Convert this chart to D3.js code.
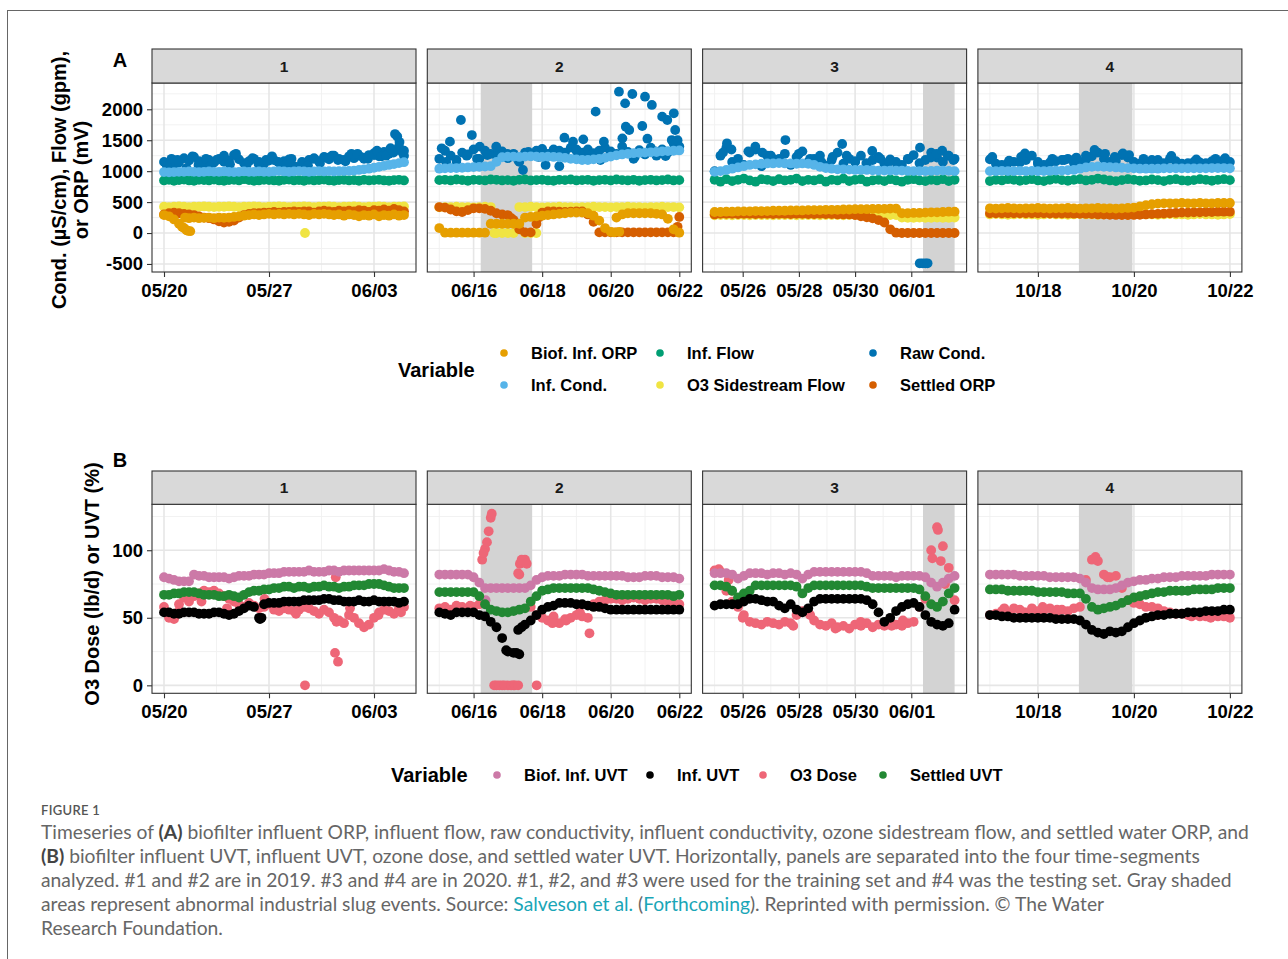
<!DOCTYPE html>
<html>
<head>
<meta charset="utf-8">
<script src="https://cdn.jsdelivr.net/npm/d3@7"></script>
<style>
  body { margin: 0; background: #fff; }
  svg text { font-family: "Liberation Sans", Arial, sans-serif; }
</style>
</head>
<body>
<svg id="fig" width="1288" height="959"></svg>
<script>
// ---- time segments (facets) ----
var panels = ["1", "2", "3", "4"];
var panelStart = ["2019-05-20", "2019-06-15", "2020-05-25", "2020-10-17"];
var stepHours = [8, 4, 5, 3];   // sampling step of the value arrays below
var majorTicks = [
  ["2019-05-20", "2019-05-27", "2019-06-03"],
  ["2019-06-16", "2019-06-18", "2019-06-20", "2019-06-22"],
  ["2020-05-26", "2020-05-28", "2020-05-30", "2020-06-01"],
  ["2020-10-18", "2020-10-20", "2020-10-22"]
];
var slugEvents = [
  null,
  ["2019-06-16T05:00", "2019-06-17T17:00"],
  ["2020-06-01T10:00", "2020-06-02T13:00"],
  ["2020-10-18T20:30", "2020-10-19T23:15"]
];

// ---- panel A variables ----
var varsA = ["Biof. Inf. ORP", "Inf. Cond.", "Inf. Flow", "O3 Sidestream Flow", "Raw Cond.", "Settled ORP"];
var colorsA = ["#E69F00", "#56B4E9", "#009E73", "#F0E442", "#0072B2", "#D55E00"];

var rawCondA = [
  [1150,1110,1090,1140,1210,1170,1230,1160,1120,1180,1140,1200,1150,1170,1260,1190,1130,1160,1200,1150,1120,1170,1180,1140,1160,1190,1080,1070,1120,1180,1210,1160,1230,1190,1250,1200,1180,1240,1210,1250,1200,1260,1290,1240,1310,1280,1340,1400,1330],
  [1200,1330,1250,1180,1300,1270,1350,1200,1330,1280,1250,1320,1210,1280,1150,1300,1250,1330,1360,1280,1350,1330,1300,1380,1330,1300,1350,1290,1330,1380,1320,1280,1400,1310,1200,1340,1270,1380,1250,1350,1300,1450,1400],
  [1000,1250,1380,1150,1200,1100,1300,1350,1080,1250,1200,1150,1280,1100,1230,1320,1150,1200,1250,1090,1180,1300,1120,1200,1150,1250,1100,1180,1230,1120,1190,1150,1100,1200,1260,1130,1180,1300,1220,1150,1250,1200],
  [1190,1120,1100,1130,1150,1140,1180,1250,1120,1100,1140,1160,1180,1200,1130,1150,1180,1240,1300,1200,1150,1170,1260,1220,1150,1120,1100,1180,1150,1130,1200,1160,1120,1130,1150,1140,1130,1160,1150,1180,1150]
];
// extra scattered readings: [days from segment start, value]
var rawCondExtraA = [
  [[0.2,1080],[0.5,1200],[0.9,1180],[1.5,1050],[1.9,1240],[2.3,1100],[2.8,1200],[3.1,1090],[3.5,1180],[4.0,1250],[4.4,1110],[4.8,1280],[5.5,1100],[5.9,1210],[6.3,1120],[6.8,1180],[7.2,1240],[7.6,1150],[8.1,1100],[8.5,1200],[8.8,1060],[9.2,1150],[9.6,1090],[10.0,1200],[10.4,1130],[10.8,1220],[11.2,1250],[11.6,1180],[12.1,1160],[12.5,1280],[12.9,1280],[13.3,1220],[13.6,1200],[14.0,1260],[14.2,1330],[14.5,1240],[14.8,1250],[15.1,1370],[15.3,1300],[15.4,1600],[15.55,1560],[15.7,1470],[15.9,1300],[16.0,1250]],
  [[0.63,1827],[0.95,1584],[4.56,1962],[5.24,2285],[5.63,2247],[5.42,2096],[6.0,2204],[6.2,2070],[6.5,1881],[6.65,1827],[6.84,1935],[5.44,1719],[5.54,1665],[5.34,1530],[5.92,1730],[6.07,1525],[6.88,1665],[6.78,1503],[3.65,1541],[3.9,1477],[4.2,1514],[4.8,1477],[0.31,1477],[0.07,1369],[1.18,1396],[1.66,1396],[2.44,1019],[3.1,1100],[6.6,1245],[0.2,1150],[0.5,1120],[0.8,1250],[1.1,1200],[1.4,1260],[2.0,1280],[2.3,1180],[2.6,1310],[2.9,1230],[3.3,1300],[3.5,1080],[4.0,1350],[4.4,1250],[4.7,1180],[5.0,1300],[5.7,1230],[6.3,1320],[6.95,1500]],
  [[0.44,1450],[1.45,1396],[2.52,1503],[4.54,1439],[5.61,1326],[7.31,1380],[0.3,1300],[0.6,1350],[1.2,1320],[1.7,1300],[2.0,1250],[2.3,1200],[3.0,1280],[3.4,1200],[3.8,1150],[4.2,1230],[4.7,1250],[5.0,1160],[5.4,1130],[5.9,1200],[6.2,1150],[6.5,1100],[6.9,1190],[7.7,1220],[7.9,1280],[8.1,1330],[8.3,1250],[8.5,1180],[7.3,-490],[7.4,-490],[7.5,-490],[7.58,-490]],
  [[0.73,1288],[0.65,1230],[2.18,1342],[2.77,1288],[3.78,1245],[0.05,1230],[1.3,1200],[1.8,1220],[2.0,1250],[2.4,1280],[2.6,1230],[2.9,1260],[3.2,1200],[3.5,1180],[4.3,1190],[4.7,1200],[4.9,1210],[0.4,1170],[1.0,1150],[1.55,1180]]
];
var infCondA = [
  [985,980,985,990,990,995,990,985,990,995,990,990,995,990,985,990,995,990,990,995,990,990,995,1000,995,990,995,1000,995,990,995,1000,995,1000,995,1000,1000,1005,1010,1020,1030,1040,1055,1070,1085,1100,1115,1130,1145],
  [1040,1045,1050,1050,1055,1060,1065,1070,1075,1080,1150,1225,1235,1235,1230,1235,1240,1235,1230,1235,1230,1225,1215,1200,1190,1180,1180,1190,1200,1215,1235,1255,1270,1280,1290,1295,1300,1305,1310,1320,1325,1330,1335],
  [990,1000,1020,1040,1060,1080,1100,1110,1120,1125,1125,1130,1125,1125,1120,1125,1120,1100,1070,1050,1040,1030,1030,1025,1020,1020,1020,1015,1010,1010,1010,1010,1010,1005,1000,1000,1000,1005,1010,1010,1005,1000],
  [1000,1000,1005,1000,1000,1005,1000,1005,1000,1000,1005,1010,1010,1015,1020,1040,1060,1070,1075,1070,1065,1060,1055,1050,1045,1040,1040,1040,1040,1045,1045,1045,1045,1045,1045,1045,1045,1050,1050,1050,1045]
];
var infFlowA = [
  [850,860,845,855,865,850,845,860,855,850,865,850,845,855,860,850,870,855,845,850,860,855,850,845,860,865,850,855,845,860,850,855,865,850,845,855,860,850,855,845,860,850,855,860,850,845,855,860,850],
  [855,860,850,865,855,845,860,855,850,865,860,850,855,845,860,865,850,855,860,850,845,860,855,865,850,855,860,845,855,860,850,865,855,850,860,845,855,860,850,855,865,850,855],
  [860,830,870,840,860,880,850,830,870,860,840,870,850,860,880,840,860,850,870,830,860,850,880,840,860,870,830,850,860,840,870,850,830,860,870,850,840,860,850,870,840,860],
  [840,860,850,870,860,845,855,870,850,840,860,875,855,845,860,870,850,860,880,865,850,840,855,870,860,845,850,865,855,840,860,870,850,845,855,870,860,845,860,870,855]
];
var o3FlowA = [
  [425,420,425,430,425,420,425,425,430,425,420,425,425,430,425,420,425,425,430,425,420,425,425,430,425,420,425,425,430,425,420,425,425,430,425,420,425,425,430,425,420,425,425,430,425,420,425,425,430],
  [415,420,420,425,420,420,415,420,425,420,0,0,0,0,420,420,425,420,415,420,420,425,420,420,415,420,420,425,420,420,415,420,420,425,420,420,415,420,420,425,420,420,415],
  [285,290,290,285,290,290,285,290,290,290,285,290,290,290,285,290,290,290,285,290,290,290,285,290,290,285,290,290,290,285,290,290,250,245,245,250,245,245,250,245,245,250],
  [300,305,300,295,300,305,300,300,295,300,305,300,300,295,300,305,300,300,295,300,305,300,300,295,300,305,300,300,295,300,305,300,300,295,300,305,300,300,295,300,305]
];
var o3FlowExtraA = [[[9.4,0]], [[2.5,0],[2.67,0],[2.83,0],[1.6,0]], [], []];
var settledOrpA = [
  [300,320,330,320,310,300,290,270,250,240,220,190,170,180,200,250,290,310,320,320,330,330,340,330,340,340,350,340,350,350,330,350,360,350,340,360,350,360,350,370,360,340,370,360,380,360,390,370,350],
  [420,410,380,350,340,370,400,400,390,360,320,300,290,210,60,10,10,150,330,350,350,345,340,345,350,350,300,180,10,10,10,10,10,10,10,10,10,10,10,10,10,10,260],
  [300,310,310,310,305,310,310,305,310,310,305,310,310,305,310,310,305,305,310,305,305,300,300,300,290,270,255,237,210,170,60,5,0,0,0,0,0,0,0,0,0,0],
  [320,320,320,318,318,318,320,320,318,318,315,315,315,315,312,310,308,305,300,298,295,292,290,290,292,295,300,305,310,315,320,325,330,330,335,335,340,340,345,345,345]
];
var settledOrpExtraA = [[], [[6.95,100],[2.1,240],[2.9,250]], [], []];
var biofOrpA = [
  [290,270,220,150,80,240,250,240,245,250,240,250,245,250,260,270,280,290,300,290,300,310,300,310,300,310,300,310,300,290,310,300,310,300,290,300,280,300,290,270,290,280,300,270,290,280,300,280,290],
  [80,5,5,5,5,5,5,5,5,150,150,150,150,150,150,250,260,270,280,290,300,310,320,330,330,330,320,280,200,80,20,250,300,320,320,320,320,320,310,300,230,60,5],
  [340,340,345,345,350,350,350,355,355,355,360,360,360,365,365,365,370,370,370,375,375,375,380,380,385,385,385,390,390,390,395,395,320,320,325,325,330,335,335,340,345,345],
  [400,395,400,405,400,395,400,400,405,400,395,400,400,405,400,395,400,400,405,400,400,395,400,405,410,430,450,465,475,480,480,480,485,480,480,485,480,480,485,485,485]
];
var biofOrpExtraA = [[[1.2,100],[1.5,45],[1.6,35],[1.75,30],[1.4,250]], [[5.1,10],[5.25,20]], [], []];

// ---- panel B variables ----
var varsB = ["Biof. Inf. UVT", "Inf. UVT", "O3 Dose", "Settled UVT"];
var colorsB = ["#CC79A7", "#000000", "#EE6677", "#228833"];

var biofUvtB = [
  [80,79,78,77,77,77,82,81,81,80,80,80,80,79,80,81,81,81,82,82,82,83,83,83,84,84,84,84,84,85,84,84,84,85,85,84,85,85,85,85,85,85,85,85,86,85,84,84,83],
  [82,82,82,82,82,82,80,76,72,72,72,72,72,72,72,72,74,78,80,81,81,81,82,82,82,82,81,81,81,81,81,81,81,80,80,80,81,81,81,80,80,80,79],
  [83,83,83,82,79,81,83,83,83,82,83,83,82,83,82,79,82,84,84,84,84,84,84,84,84,84,83,81,81,81,81,80,81,81,81,81,80,76,73,76,79,81],
  [82,82,82,82,82,81,81,81,81,81,80,80,80,80,80,79,76,72,71,71,71,72,74,76,77,78,78,79,79,80,80,80,81,81,81,81,81,82,82,82,82]
];
var biofUvtExtraB = [[], [[1.35,63]], [], []];
var settledUvtB = [
  [67,67,68,68,69,69,69,68,67,67,67,66,66,67,66,65,67,69,70,70,71,71,72,72,73,73,72,73,73,72,73,73,74,73,73,72,73,73,74,74,74,75,75,75,74,73,72,72,72],
  [69,69,69,69,69,69,69,66,60,56,55,54,54,55,56,57,62,66,70,71,72,72,72,72,72,72,72,71,70,69,68,67,67,67,67,67,67,67,67,67,67,66,67],
  [74,74,73,70,65,68,70,74,74,74,74,74,74,74,73,68,72,74,74,74,74,74,74,74,74,74,73,72,72,72,72,72,72,72,72,71,66,60,58,62,68,72],
  [71,71,71,70,70,70,70,70,69,69,69,69,69,68,68,68,64,58,56,57,58,59,61,63,65,66,67,68,69,69,70,70,70,70,71,71,71,71,72,72,72]
];
var infUvtB = [
  [54,54,53,53,54,54,54,53,53,53,54,54,53,52,53,55,57,59,58,50,60,61,61,61,62,62,62,62,63,63,63,63,64,64,63,63,62,62,62,63,62,62,63,62,62,62,62,61,62],
  [54,53,52,54,54,54,54,52,51,47,43,35,25,24,23,45,48,52,56,58,59,61,61,61,60,60,59,58,58,57,56,56,56,56,56,56,56,56,56,56,56,56,56],
  [59,60,60,60,60,62,64,64,63,62,62,59,57,60,56,54,57,62,64,64,64,64,64,64,64,64,63,60,54,47,50,55,58,60,61,58,52,47,45,44,46,56],
  [52,52,51,51,50,50,50,50,50,50,50,49,49,49,49,48,45,41,39,38,40,39,40,43,46,48,50,51,52,52,53,53,53,54,54,54,55,55,55,56,56]
];
var infUvtExtraB = [[[6.4,49],[6.5,50]], [[2.3,41],[2.4,43],[1.95,26],[2.25,24]], [], []];
var o3DoseB = [
  [58,50,49,60,65,62,66,68,70,69,70,68,66,64,62,60,58,61,59,57,58,60,56,55,57,56,55,56,58,57,55,53,56,54,50,48,46,52,50,46,43,45,50,54,56,55,53,57,58],
  [57,58,56,59,58,57,58,60,101,124,0,0,0,0,82,93,58,52,50,48,51,46,49,50,52,51,50,60,62,63,64,64,63,64,65,64,63,64,64,63,62,61,60],
  [85,84,70,62,58,52,47,46,45,47,46,45,47,46,52,55,54,48,45,44,46,43,44,42,45,44,46,43,45,44,46,45,44,46,47,58,64,100,117,103,87,63],
  [52,53,55,54,57,56,54,57,55,56,57,54,56,55,57,58,78,93,92,82,80,81,72,63,61,60,58,58,57,55,54,53,53,52,52,51,51,51,51,51,50]
];
var o3DoseExtraB = [
  [[9.4,0],[11.4,24],[11.6,17.5],[11.45,80],[11.5,47],[1.0,55],[2.5,62],[4.2,57],[6.7,64],[8.8,53],[12.4,57],[14.3,52],[15.8,54]],
  [[1.25,93],[1.29,98],[1.39,106],[1.44,114],[1.53,127],[1.6,0],[1.75,0],[1.9,0],[2.1,0],[2.2,0],[2.3,0],[2.84,0],[2.3,83],[2.35,90],[2.4,93],[2.55,90],[4.38,38.5],[3.3,46],[3.7,48],[4.1,54],[0.5,55],[0.9,59]],
  [[7.75,94],[7.95,115],[8.05,92],[8.2,75],[0.15,86],[0.5,78],[0.6,70],[1.0,50],[2.8,44],[3.4,52],[4.3,42],[5.2,47],[6.3,44],[6.7,48]],
  [[0.3,57],[0.7,54],[1.1,58],[1.4,56],[2.2,95],[2.45,80],[3.5,52],[4.2,51],[4.6,50]]
];

// ---------------------------------------------------------------
var svg = d3.select("#fig");
var W = 264, panelLeft = 152, panelStep = 275.3, R = 4.9;

function timeAt(k, days) {
  return new Date(Date.parse(panelStart[k] + "T00:00:00Z") + days * 864e5);
}
function parseUtc(s) { return new Date(Date.parse(s + (s.length > 10 ? ":00Z" : "T00:00:00Z"))); }

var xDomains = panels.map(function (p, k) {
  var tEnd = (rawCondA[k].length - 1) * stepHours[k] / 24;
  return [timeAt(k, -0.05 * tEnd), timeAt(k, 1.05 * tEnd)];
});

// outer frame
svg.append("rect").attr("x", 7.5).attr("y", 10.5).attr("width", 1300).attr("height", 980)
  .attr("fill", "none").attr("stroke", "#666").attr("stroke-width", 1);

function drawRow(row) {
  panels.forEach(function (p, k) {
    var x0 = panelLeft + k * panelStep;
    var x = d3.scaleUtc().domain(xDomains[k]).range([x0, x0 + W]);
    var y = row.y;
    var g = svg.append("g");
    var majors = majorTicks[k].map(parseUtc);
    var gap = majors[1] - majors[0];
    var minors = [new Date(+majors[0] - gap / 2)];
    majors.forEach(function (m) { minors.push(new Date(+m + gap / 2)); });
    minors = minors.filter(function (d) { return d >= xDomains[k][0] && d <= xDomains[k][1]; });

    g.append("rect").attr("x", x0).attr("y", row.top).attr("width", W)
      .attr("height", row.bottom - row.top).attr("fill", "#fff");

    // grid
    g.selectAll(".ymin").data(row.yMinor).join("line")
      .attr("x1", x0).attr("x2", x0 + W).attr("y1", y).attr("y2", y)
      .attr("stroke", "#f0f0f0").attr("stroke-width", 0.9);
    g.selectAll(".xmin").data(minors).join("line")
      .attr("x1", x).attr("x2", x).attr("y1", row.top).attr("y2", row.bottom)
      .attr("stroke", "#f0f0f0").attr("stroke-width", 0.9);
    g.selectAll(".ymaj").data(row.yMajor).join("line")
      .attr("x1", x0).attr("x2", x0 + W).attr("y1", y).attr("y2", y)
      .attr("stroke", "#e6e6e6").attr("stroke-width", 1.6);
    g.selectAll(".xmaj").data(majors).join("line")
      .attr("x1", x).attr("x2", x).attr("y1", row.top).attr("y2", row.bottom)
      .attr("stroke", "#e6e6e6").attr("stroke-width", 1.6);

    // slug event shading
    if (slugEvents[k]) {
      var s0 = x(parseUtc(slugEvents[k][0])), s1 = x(parseUtc(slugEvents[k][1]));
      g.append("rect").attr("x", s0).attr("y", row.top).attr("width", s1 - s0)
        .attr("height", row.bottom - row.top).attr("fill", "#d3d3d3");
    }

    // points
    row.series.forEach(function (s) {
      var pts = s.vals[k].map(function (v, i) { return { t: i * stepHours[k] / 24, v: v }; });
      (s.extra ? s.extra[k] : []).forEach(function (e) { pts.push({ t: e[0], v: e[1] }); });
      g.append("g").attr("fill", s.color)
        .selectAll("circle").data(pts).join("circle")
        .attr("cx", function (d) { return x(timeAt(k, d.t)); })
        .attr("cy", function (d) { return y(d.v); })
        .attr("r", R);
    });

    // panel border and strip
    g.append("rect").attr("x", x0).attr("y", row.top).attr("width", W)
      .attr("height", row.bottom - row.top).attr("fill", "none").attr("stroke", "#333").attr("stroke-width", 1.1);
    g.append("rect").attr("x", x0).attr("y", row.stripTop).attr("width", W)
      .attr("height", row.top - row.stripTop).attr("fill", "#d9d9d9").attr("stroke", "#333").attr("stroke-width", 1.1);
    g.append("text").attr("x", x0 + W / 2).attr("y", row.stripTop + (row.top - row.stripTop) / 2 + 5.5)
      .attr("text-anchor", "middle").attr("font-size", 15.5).attr("font-weight", "bold").attr("fill", "#1a1a1a")
      .text(p);

    // x axis
    var ax = g.append("g").attr("transform", "translate(0," + row.bottom + ")")
      .call(d3.axisBottom(x).tickValues(majors).tickFormat(d3.utcFormat("%m/%d")).tickSize(5).tickPadding(7));
    ax.select(".domain").remove();
    ax.selectAll(".tick line").attr("stroke", "#333").attr("stroke-width", 1.1);
    ax.selectAll("text").attr("font-size", 18.5).attr("font-weight", "bold").attr("fill", "#000")
      .attr("font-family", "Liberation Sans, Arial, sans-serif");

    // y axis on first panel
    if (k === 0) {
      var ay = g.append("g").attr("transform", "translate(" + x0 + ",0)")
        .call(d3.axisLeft(y).tickValues(row.yMajor).tickFormat(function (d) { return String(d); }).tickSize(5).tickPadding(4));
      ay.select(".domain").remove();
      ay.selectAll(".tick line").attr("stroke", "#333").attr("stroke-width", 1.1);
      ay.selectAll("text").attr("font-size", 18.5).attr("font-weight", "bold").attr("fill", "#000")
        .attr("font-family", "Liberation Sans, Arial, sans-serif");
    }
  });

  // panel tag and y title
  svg.append("text").attr("x", 120).attr("y", row.tagY).attr("text-anchor", "middle")
    .attr("font-size", 20).attr("font-weight", "bold").text(row.tag);
  row.title.forEach(function (line, i) {
    svg.append("text")
      .attr("transform", "translate(" + (row.titleX + i * 22) + "," + row.titleY + ") rotate(-90)")
      .attr("text-anchor", "middle").attr("font-size", 20).attr("font-weight", "bold").text(line);
  });
}

var yA = d3.scaleLinear().domain([-630, 2425]).range([272, 83]);
drawRow({
  tag: "A", tagY: 67, stripTop: 49, top: 83, bottom: 272, y: yA,
  yMajor: [-500, 0, 500, 1000, 1500, 2000], yMinor: [-250, 250, 750, 1250, 1750, 2250],
  title: ["Cond. (\u00b5S/cm), Flow (gpm),", "or ORP (mV)"], titleX: 66, titleY: 180,
  series: [
    { vals: rawCondA, extra: rawCondExtraA, color: colorsA[4] },
    { vals: infFlowA, color: colorsA[2] },
    { vals: infCondA, color: colorsA[1] },
    { vals: o3FlowA, extra: o3FlowExtraA, color: colorsA[3] },
    { vals: settledOrpA, extra: settledOrpExtraA, color: colorsA[5] },
    { vals: biofOrpA, extra: biofOrpExtraA, color: colorsA[0] }
  ]
});

var yB = d3.scaleLinear().domain([-5.9, 134]).range([693.3, 504.3]);
drawRow({
  tag: "B", tagY: 467, stripTop: 471, top: 504.3, bottom: 693.3, y: yB,
  yMajor: [0, 50, 100], yMinor: [25, 75, 125],
  title: ["O3 Dose (lb/d) or UVT (%)"], titleX: 99, titleY: 584,
  series: [
    { vals: o3DoseB, extra: o3DoseExtraB, color: colorsB[2] },
    { vals: biofUvtB, extra: biofUvtExtraB, color: colorsB[0] },
    { vals: settledUvtB, color: colorsB[3] },
    { vals: infUvtB, extra: infUvtExtraB, color: colorsB[1] }
  ]
});

// ---- legends ----
var legA = svg.append("g");
legA.append("text").attr("x", 398).attr("y", 377).attr("font-size", 20).attr("font-weight", "bold").text("Variable");
var legAcols = [504, 660, 873], legArows = [353, 385];
varsA.forEach(function (v, i) {
  var cx = legAcols[Math.floor(i / 2)], cy = legArows[i % 2];
  legA.append("circle").attr("cx", cx).attr("cy", cy).attr("r", 3.8).attr("fill", colorsA[i]);
  legA.append("text").attr("x", cx + 27).attr("y", cy + 6).attr("font-size", 16.5).attr("font-weight", "bold").text(v);
});

var legB = svg.append("g");
legB.append("text").attr("x", 391).attr("y", 782).attr("font-size", 20).attr("font-weight", "bold").text("Variable");
var legBcols = [497, 650, 763, 883];
varsB.forEach(function (v, i) {
  legB.append("circle").attr("cx", legBcols[i]).attr("cy", 775).attr("r", 3.8).attr("fill", colorsB[i]);
  legB.append("text").attr("x", legBcols[i] + 27).attr("y", 781).attr("font-size", 16.5).attr("font-weight", "bold").text(v);
});

// ---- caption ----
var capFont = "Lato, 'Open Sans', sans-serif";
svg.append("text").attr("x", 41).attr("y", 815).attr("font-size", 13).attr("font-weight", 600)
  .attr("fill", "#555").style("font-family", capFont).style("letter-spacing", "0.3px").text("FIGURE 1");

var capLines = [
  [["Timeseries of ", 0], ["(A)", 1], [" biofilter influent ORP, influent flow, raw conductivity, influent conductivity, ozone sidestream flow, and settled water ORP, and", 0]],
  [["(B)", 1], [" biofilter influent UVT, influent UVT, ozone dose, and settled water UVT. Horizontally, panels are separated into the four time-segments", 0]],
  [["analyzed. #1 and #2 are in 2019. #3 and #4 are in 2020. #1, #2, and #3 were used for the training set and #4 was the testing set. Gray shaded", 0]],
  [["areas represent abnormal industrial slug events. Source: ", 0], ["Salveson et al.", 2], [" (", 0], ["Forthcoming", 2], ["). Reprinted with permission. \u00a9 The Water", 0]],
  [["Research Foundation.", 0]]
];
var capNodes = capLines.map(function (parts, i) {
  var t = svg.append("text").attr("x", 41).attr("y", 839 + i * 24).attr("font-size", 17)
    .attr("fill", "#666").style("font-family", capFont);
  parts.forEach(function (pt) {
    t.append("tspan").text(pt[0])
      .attr("font-weight", pt[1] === 1 ? "bold" : null)
      .attr("fill", pt[1] === 1 ? "#444" : pt[1] === 2 ? "#1aa6b7" : null);
  });
  return t;
});
// fit caption size so the first line spans like the original column
var w1 = capNodes[0].node().getComputedTextLength();
var fs = 17 * 1209 / w1;
capNodes.forEach(function (t) { t.attr("font-size", fs); });
</script>
</body>
</html>
